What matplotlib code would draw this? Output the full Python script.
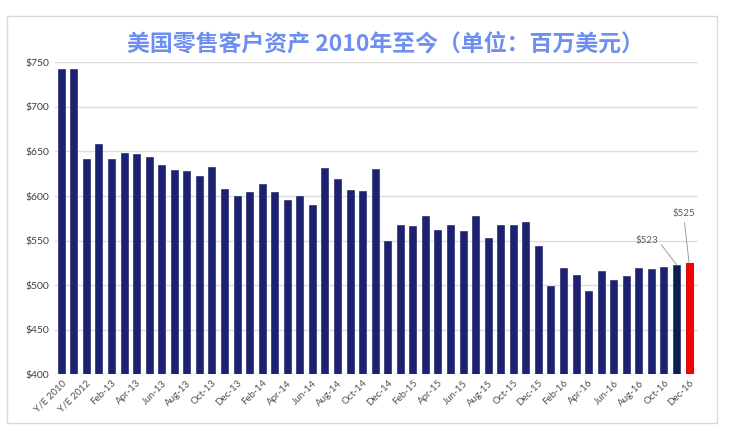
import matplotlib
matplotlib.use("Agg")
import matplotlib.pyplot as plt
from matplotlib.patches import Rectangle

# data (millions USD)
months = ['Jan', 'Feb', 'Mar', 'Apr', 'May', 'Jun',
          'Jul', 'Aug', 'Sep', 'Oct', 'Nov', 'Dec']
categories = ['Y/E 2010', 'Y/E 2011', 'Y/E 2012'] + \
    ['{}-{}'.format(m, y) for y in ('13', '14', '15', '16') for m in months]
values = [742, 742, 641, 658, 641, 648, 647, 644, 635, 629, 628, 622, 632,
          608, 600, 605, 614, 604, 595, 600, 590, 631, 619, 607, 606, 630,
          550, 568, 566, 578, 562, 568, 561, 578, 553, 568, 568, 571, 544,
          499, 519, 511, 493, 516, 506, 510, 519, 518, 520, 523, 525]
yticks = [400, 450, 500, 550, 600, 650, 700, 750]

colors = ['#1d2172'] * len(values)
colors[-2] = '#0c1e4e'
colors[-1] = '#ff0000'

fig = plt.figure(figsize=(7.3, 4.38), dpi=100)
fig.patches.append(Rectangle((0.0096, 0.034), 0.972, 0.929, transform=fig.transFigure,
                             fill=False, edgecolor='#d9d9d9', lw=1))

ax = fig.add_axes([0.0753, 0.1454, 0.8807, 0.7124])
x = range(len(values))
ax.bar(x, values, width=0.56, color=colors, edgecolor='#14175a', linewidth=0.4, zorder=3)
ax.bar([len(values) - 1], [values[-1]], width=0.56, color=colors[-1],
       edgecolor='#cc0000', linewidth=0.4, zorder=3)

ax.set_ylim(400, 750)
ax.set_xlim(-0.5, len(values) - 0.3)
ax.set_yticks(yticks)
ax.set_yticklabels(['${}'.format(v) for v in yticks], fontsize=7.5,
                   color='#404040', family='Lato')
ax.set_xticks(list(x)[::2])
ax.set_xticklabels(categories[::2], rotation=45, ha='right', rotation_mode='anchor',
                   fontsize=7, color='#505050', family='Lato')
ax.tick_params(length=0, pad=4)
ax.tick_params(axis='x', pad=3)
ax.grid(axis='y', color='#dcdcdc', lw=1, zorder=0)
for s in ax.spines.values():
    s.set_visible(False)

ax.annotate('${}'.format(values[-2]), xy=(len(values) - 2, values[-2]),
            xytext=(46.6, 550.5), ha='center', va='center', fontsize=7,
            color='#595959', family='Lato',
            arrowprops=dict(arrowstyle='-', color='#909090', lw=0.6,
                            relpos=(1.0, 0.5), shrinkA=1, shrinkB=0))
ax.annotate('${}'.format(values[-1]), xy=(len(values) - 1, values[-1]),
            xytext=(49.6, 580), ha='center', va='center', fontsize=7,
            color='#595959', family='Lato',
            arrowprops=dict(arrowstyle='-', color='#909090', lw=0.6,
                            relpos=(0.5, 0.0), shrinkA=1, shrinkB=0))

fig.text(0.528, 0.9, '美国零售客户资产 2010年至今（单位：百万美元）',
         ha='center', va='center', fontsize=16.5, fontweight='bold',
         color='#6e8ff0', family=['Noto Sans CJK SC', 'DejaVu Sans'])

fig.savefig('out.png', dpi=100, facecolor='white')
